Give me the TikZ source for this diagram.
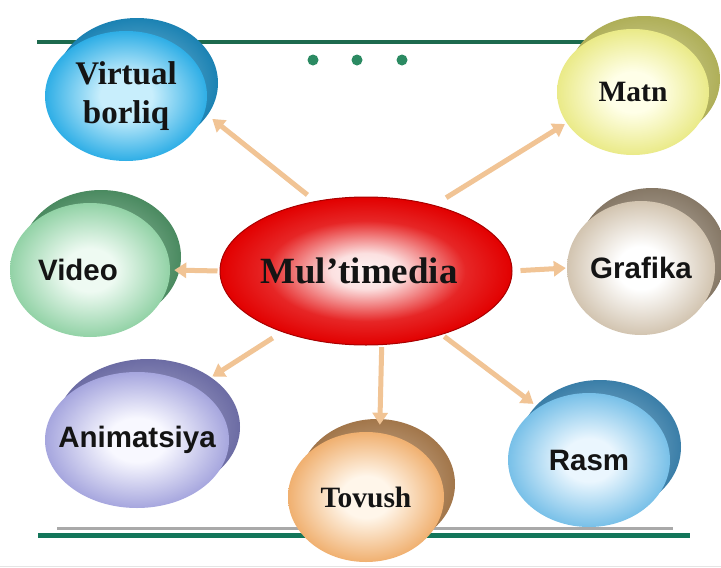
\documentclass[tikz,border=0pt]{standalone}
\usepackage{fontspec}
\setmainfont{Liberation Serif}
\setsansfont{Liberation Sans}
\usetikzlibrary{shapes.geometric,arrows.meta,calc}

% rails, dots and connectors
\definecolor{rimGreen}{HTML}{1D6A4E}
\definecolor{baseGreen}{HTML}{13765A}
\definecolor{baseGray}{HTML}{A9A9A9}
\definecolor{dotGreen}{HTML}{2B8A62}
\definecolor{arrowTan}{HTML}{F1C495}
% disc colours: light face, dark face, rim
\definecolor{vbLight}{HTML}{C8EEFC}\definecolor{vbDark}{HTML}{2EAEE6}\definecolor{vbRimC}{HTML}{1B82B3}
\definecolor{mtLight}{HTML}{FFFFE8}\definecolor{mtDark}{HTML}{EAEA88}\definecolor{mtRimC}{HTML}{AFAF58}
\definecolor{viLight}{HTML}{EEFAF2}\definecolor{viDark}{HTML}{92D2A6}\definecolor{viRimC}{HTML}{4A8A60}
\definecolor{grLight}{HTML}{FFFFFF}\definecolor{grDark}{HTML}{D2C4B0}\definecolor{grRimC}{HTML}{867866}
\definecolor{anLight}{HTML}{F8F8FF}\definecolor{anDark}{HTML}{A6A6DE}\definecolor{anRimC}{HTML}{6C6CA4}
\definecolor{toLight}{HTML}{FFF6EA}\definecolor{toDark}{HTML}{F0B070}\definecolor{toRimC}{HTML}{A2764A}
\definecolor{raLight}{HTML}{EAF6FE}\definecolor{raDark}{HTML}{78C0E8}\definecolor{raRimC}{HTML}{3A7EA8}
\definecolor{mmRed}{HTML}{E20000}
\definecolor{mmEdge}{HTML}{A80000}

% glossy face: pale centre, coloured edge
\newcommand\faceshading[3]{%
  \pgfdeclareradialshading{#1}{\pgfpoint{0bp}{0bp}}{%
    color(0bp)=(#2); color(8bp)=(#2); color(25bp)=(#3); color(50bp)=(#3)}}
\faceshading{vbFace}{vbLight}{vbDark}
\faceshading{mtFace}{mtLight}{mtDark}
\faceshading{viFace}{viLight}{viDark}
\faceshading{grFace}{grLight}{grDark}
\faceshading{anFace}{anLight}{anDark}
\faceshading{toFace}{toLight}{toDark}
\faceshading{raFace}{raLight}{raDark}
\pgfdeclareradialshading{mmFace}{\pgfpoint{0bp}{0bp}}{%
  color(0bp)=(mmRed!4!white); color(6bp)=(mmRed!12!white);
  color(17bp)=(mmRed!85!white); color(25bp)=(mmRed); color(50bp)=(mmRed)}

\tikzset{
  disc/.style={ellipse, inner sep=0pt, align=center, text=black!92},
  face/.style={disc, shade, shading=#1},
  rim/.style={disc, inner color=#1!50!white, outer color=#1},
  bigserif/.style={font=\bfseries\fontsize{33}{39}\selectfont},
  sername/.style={font=\bfseries\fontsize{29.5}{34}\selectfont},
  sansname/.style={font=\sffamily\bfseries\fontsize{29.5}{34}\selectfont},
  link/.style={draw=arrowTan, line width=5pt, -{Triangle[width=15pt,length=12pt]}},
}

\begin{document}
\begin{tikzpicture}[x=1pt,y=-1pt]
\useasboundingbox (0,0) rectangle (721,568);
\fill[white] (0,0) rectangle (721,568);

% rails
\draw[rimGreen, line width=4pt] (37,42) -- (610,42);
\draw[baseGray, line width=3pt] (57,528) -- (673,528);
\draw[baseGreen, line width=5pt] (38,535) -- (690,535);
\draw[black!10, line width=1pt] (0,566) -- (721,566);

% three dots
\foreach \dx in {313,357,402}
  \fill[dotGreen] (\dx,60) circle[radius=5.5pt];

% rims of the discs
\node[rim=vbRimC, minimum width=162pt, minimum height=130pt] (vbRim) at (137,83) {};
\node[rim=mtRimC, minimum width=152pt, minimum height=126pt] (mtRim) at (644,79) {};
\node[rim=viRimC, minimum width=160pt, minimum height=134pt] (viRim) at (101,257) {};
\node[rim=grRimC, minimum width=148pt, minimum height=134pt] (grRim) at (652,255) {};
\node[rim=anRimC, minimum width=184pt, minimum height=136pt] (anRim) at (148,427) {};
\node[rim=toRimC, minimum width=156pt, minimum height=130pt] (toRim) at (377,484) {};
\node[rim=raRimC, minimum width=162pt, minimum height=134pt] (raRim) at (600,447) {};

% disc faces
\node[face=vbFace, minimum width=162pt, minimum height=130pt, bigserif] (vb) at (126,96) {\makebox[0pt]{Virtual}\\\makebox[0pt]{borliq}};
\node[face=mtFace, minimum width=152pt, minimum height=126pt, sername] (matn) at (633,92) {Matn};
\node[face=viFace, minimum width=160pt, minimum height=134pt, sansname] (video) at (90,270) {\makebox[0pt]{Video\hspace{24pt}}};
\node[face=grFace, minimum width=148pt, minimum height=134pt, sansname] (grafika) at (641,268) {\makebox[0pt]{Grafika}};
\node[face=anFace, minimum width=184pt, minimum height=136pt, sansname] (anim) at (137,440) {\makebox[0pt]{Animatsiya}};
\node[face=toFace, minimum width=156pt, minimum height=130pt, sername] (tov) at (366,497) {\makebox[0pt]{Tovush}};
\node[face=raFace, minimum width=162pt, minimum height=134pt, sansname] (rasm) at (589,460) {Rasm};

% central disc
\node[face=mmFace, draw=mmEdge, line width=1pt, minimum width=292pt, minimum height=148pt,
      font=\bfseries\fontsize{37}{40}\selectfont] (mm) at (366,271) {\makebox[0pt]{Mul’timedia\hspace{14pt}}};

% connectors
\draw[link, shorten <=10pt, shorten >=10pt] (mm.126) -- (vb.-12);
\draw[link, shorten <=14pt, shorten >=2pt] (mm.44) -- (matn.-155);
\draw[link, shorten <=2pt, shorten >=4pt] (mm.180) -- (video.0);
\draw[link, shorten <=8pt, shorten >=1pt] (mm.0) -- (grafika.180);
\draw[link, shorten <=11pt, shorten >=20pt] (mm.216) -- (anim.42);
\draw[link, shorten <=2pt, shorten >=8pt] (mm.-78) -- (tov.78);
\draw[link, shorten <=3pt, shorten >=6pt] (mm.-40) -- (rasm.134);
\end{tikzpicture}
\end{document}
